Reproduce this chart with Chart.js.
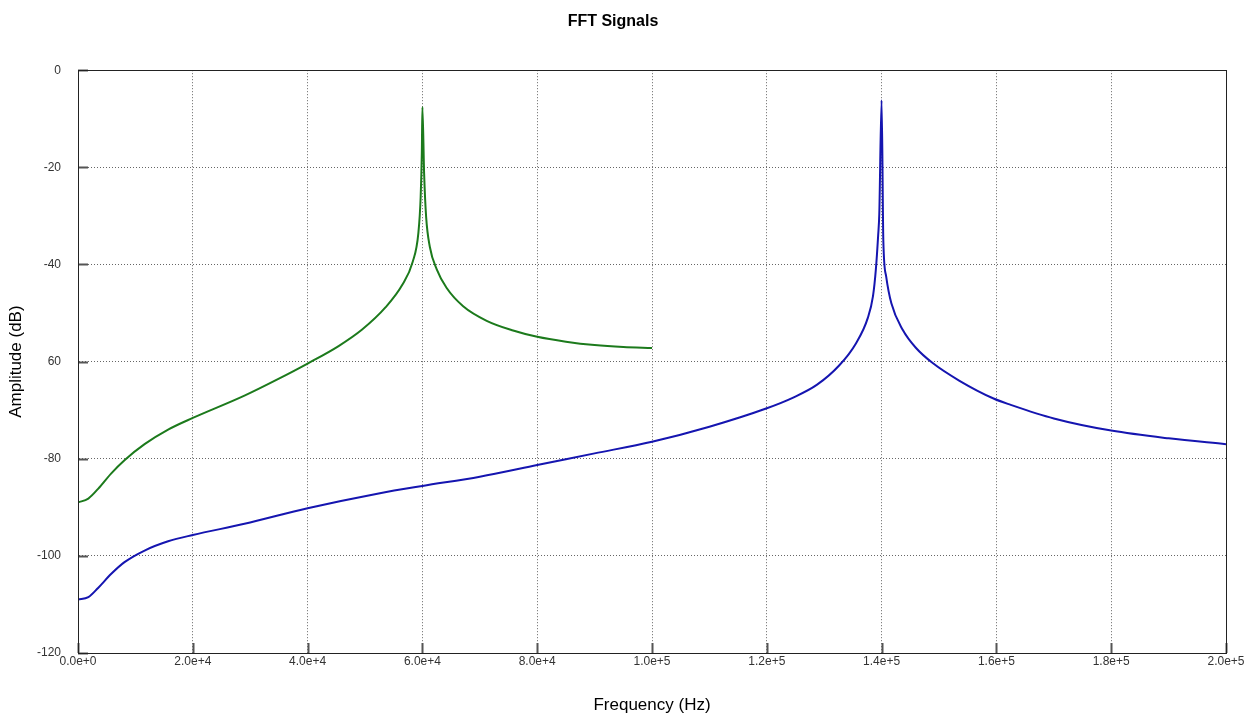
<!DOCTYPE html>
<html>
<head>
<meta charset="utf-8">
<title>FFT Signals</title>
<script src="https://cdn.jsdelivr.net/npm/chart.js@4.4.1/dist/chart.umd.min.js"></script>
<style>
  html, body { margin: 0; padding: 0; background: #fff; }
  #wrap { width: 1254px; height: 715px; }
</style>
</head>
<body>
<div id="wrap"><canvas id="fft" width="1254" height="715"></canvas></div>
<script>
// spectrum of the 60 kHz tone (only computed up to 100 kHz)
const greenFreq = [0, 1800, 3500, 5800, 8100, 11600, 15700, 20000, 29000, 35000, 40000, 45400, 49500,
  53600, 56500, 58300, 59300, 59700, 59900, 60000, 60300, 60650, 61300, 62500, 64200, 67100, 71200,
  75800, 80000, 85000, 90000, 95000, 100000];
const greenDb = [-89, -88.2, -86.2, -83, -80.3, -77, -74, -71.6, -67, -63.5, -60.4, -56.8, -53.4,
  -48.8, -44.2, -39.5, -33.5, -26, -17, -7.6, -21.3, -30.2, -36.4, -41, -44.8, -48.6, -51.6,
  -53.6, -54.9, -55.9, -56.6, -57, -57.2];

// spectrum of the 140 kHz tone
const blueFreq = [0, 1800, 3500, 5800, 8100, 11600, 15700, 20000, 29000, 40000, 52600, 60000, 70000,
  80000, 90000, 100000, 110000, 120000, 124600, 128700, 132600, 135500, 137600, 138500, 139000,
  139400, 139600, 140000, 140300, 140800, 141700, 143700, 146000, 148900, 153500, 159500, 162500,
  170000, 180000, 190000, 200000];
const blueDb = [-109, -108.5, -106.6, -103.7, -101.3, -98.9, -97, -95.7, -93.4, -90.2, -87.1, -85.6,
  -83.7, -81.3, -78.9, -76.5, -73.4, -69.6, -67.4, -64.8, -60.8, -56.3, -51, -46.5, -41, -34,
  -29.5, -6.2, -35, -42.5, -48, -53.5, -57.2, -60.3, -63.9, -67.6, -68.9, -71.7, -74.2, -75.8, -77];

const yTickValues = [0, -20, -40, -60, -80, -100, -120];
const yTickLabels = ['0', '-20', '-40', '60', '-80', '-100', '-120'];

const FONT = '"Liberation Sans", Arial, sans-serif';

function toPoints(xs, ys) {
  return xs.map((x, i) => ({ x: x, y: ys[i] }));
}

// solid frame round the plot plus short inward tick marks on the left and bottom
const frameTicks = {
  id: 'frameTicks',
  afterDraw(chart) {
    const { ctx, chartArea: a, scales } = chart;
    ctx.save();
    ctx.strokeStyle = '#555';
    ctx.lineWidth = 2;
    ctx.beginPath();
    yTickValues.forEach(v => {
      const y = Math.round(scales.y.getPixelForValue(v)) + 0.5;
      ctx.moveTo(a.left, y);
      ctx.lineTo(a.left + 10, y);
    });
    scales.x.ticks.forEach(t => {
      const x = Math.round(scales.x.getPixelForValue(t.value)) + 0.5;
      ctx.moveTo(x, a.bottom);
      ctx.lineTo(x, a.bottom - 10);
    });
    ctx.stroke();
    ctx.strokeStyle = '#222';
    ctx.lineWidth = 1;
    ctx.strokeRect(Math.round(a.left) + 0.5, Math.round(a.top) + 0.5,
      Math.round(a.right - a.left), Math.round(a.bottom - a.top));
    ctx.restore();
  }
};

new Chart(document.getElementById('fft'), {
  type: 'line',
  data: {
    datasets: [
      {
        label: 'Signal 1',
        data: toPoints(greenFreq, greenDb),
        borderColor: '#1c7a1c',
        borderWidth: 2,
        pointRadius: 0,
        cubicInterpolationMode: 'monotone'
      },
      {
        label: 'Signal 2',
        data: toPoints(blueFreq, blueDb),
        borderColor: '#1515b0',
        borderWidth: 2,
        pointRadius: 0,
        cubicInterpolationMode: 'monotone'
      }
    ]
  },
  options: {
    responsive: false,
    animation: false,
    devicePixelRatio: 1,
    layout: { padding: { left: 0, right: 28, top: 0, bottom: 0 } },
    plugins: {
      legend: { display: false },
      tooltip: { enabled: false },
      title: {
        display: true,
        text: 'FFT Signals',
        color: '#000',
        font: { family: FONT, size: 16, weight: 'bold' },
        padding: { top: 12, bottom: 39 }
      }
    },
    scales: {
      x: {
        type: 'linear',
        min: 0,
        max: 200000,
        afterFit(scale) { scale.height = 62; },
        ticks: {
          stepSize: 20000,
          padding: 1,
          color: '#333',
          font: { family: FONT, size: 12 },
          maxRotation: 0,
          autoSkip: false,
          callback: v => Number(v).toExponential(1)
        },
        grid: { color: '#666', lineWidth: 1, drawTicks: false },
        border: { display: true, color: '#222', dash: [1, 2] },
        title: {
          display: true,
          text: 'Frequency (Hz)',
          color: '#000',
          font: { family: FONT, size: 17 },
          padding: { top: 0, bottom: -1 }
        }
      },
      y: {
        type: 'linear',
        min: -120,
        max: 0,
        afterFit(scale) { scale.width = 78; },
        ticks: {
          stepSize: 20,
          padding: 17,
          color: '#333',
          font: { family: FONT, size: 12 },
          autoSkip: false,
          callback: v => {
            const i = yTickValues.indexOf(v);
            return i >= 0 ? yTickLabels[i] : '';
          }
        },
        grid: { color: '#666', lineWidth: 1, drawTicks: false },
        border: { display: true, color: '#222', dash: [1, 2] },
        title: {
          display: true,
          text: 'Amplitude (dB)',
          color: '#000',
          font: { family: FONT, size: 17 },
          padding: { top: 6, bottom: 0 }
        }
      }
    }
  },
  plugins: [frameTicks]
});
</script>
</body>
</html>
